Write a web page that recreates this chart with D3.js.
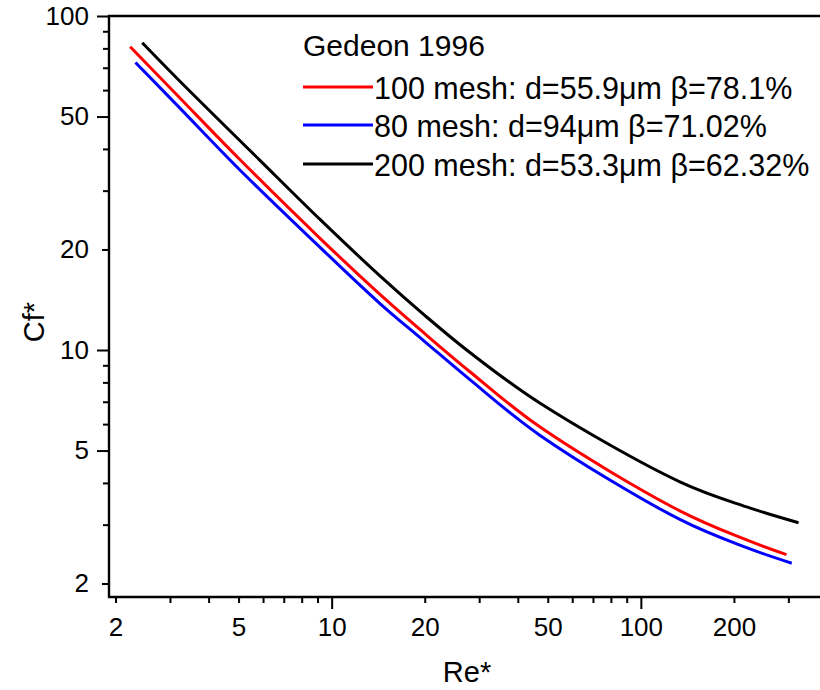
<!DOCTYPE html>
<html>
<head>
<meta charset="utf-8">
<script src="https://cdn.jsdelivr.net/npm/d3@7"></script>
<style>
  html, body { margin: 0; padding: 0; background: #fff; }
  svg { display: block; font-family: Arial, "Liberation Sans", sans-serif; }
</style>
</head>
<body>
<svg id="chart" width="820" height="690"></svg>
<script>
// Friction-factor curves Cf* vs Re* (log-log), three screen meshes
const re100 = [2.23, 3.23, 5.0, 9.17, 14.3, 20, 28, 47.1, 133.7, 219.8, 295.8];
const cf100 = [80.9, 56.8, 37.5, 21.6, 14.7, 11.2, 8.61, 5.89, 3.30, 2.70, 2.44];

const re80 = [2.32, 3.23, 5.05, 9.17, 14.3, 20, 28, 47.1, 133.7, 219.8, 307.6];
const cf80 = [72.6, 53.0, 34.6, 20.3, 13.8, 10.6, 8.15, 5.56, 3.11, 2.56, 2.30];

const re200 = [2.44, 3.23, 5.84, 9.17, 14.3, 20, 28, 47.1, 133.7, 219.8, 323.6];
const cf200 = [83.2, 63.8, 37.1, 24.6, 16.7, 12.7, 9.83, 6.94, 4.03, 3.39, 3.04];

const seriesNames = [
  "100 mesh: d=55.9\u03bcm \u03b2=78.1%",
  "80 mesh: d=94\u03bcm \u03b2=71.02%",
  "200 mesh: d=53.3\u03bcm \u03b2=62.32%"
];
const seriesColors = ["#ff0000", "#0000ff", "#000000"];
const legendTitle = "Gedeon 1996";

const xLabeled = [2, 5, 10, 20, 50, 100, 200];
const xMinor = [3, 4, 6, 7, 8, 9, 30, 40, 60, 70, 80, 90, 300];
const yLabeled = [2, 5, 10, 20, 50, 100];
const yMinor = [3, 4, 6, 7, 8, 9, 30, 40, 60, 70, 80, 90];
const xDomain = [1.905, 400];
const yDomain = [1.822, 100];

const svg = d3.select("#chart");
const plotLeft = 109, plotRight = 827, plotTop = 16, plotBottom = 597;

const x = d3.scaleLog().domain(xDomain).range([plotLeft, plotRight]);
const y = d3.scaleLog().domain(yDomain).range([plotBottom, plotTop]);

const series = [
  { re: re100, cf: cf100 },
  { re: re80, cf: cf80 },
  { re: re200, cf: cf200 }
];

svg.append("defs").append("clipPath").attr("id", "plotClip")
  .append("rect").attr("x", plotLeft).attr("y", plotTop)
  .attr("width", plotRight - plotLeft).attr("height", plotBottom - plotTop);

const line = d3.line()
  .x(d => x(d[0]))
  .y(d => y(d[1]))
  .curve(d3.curveCatmullRom.alpha(0.5));

const plot = svg.append("g").attr("clip-path", "url(#plotClip)");
series.forEach((s, i) => {
  plot.append("path")
    .datum(s.re.map((r, k) => [r, s.cf[k]]))
    .attr("fill", "none")
    .attr("stroke", seriesColors[i])
    .attr("stroke-width", 3)
    .attr("stroke-linejoin", "round")
    .attr("d", line);
});

// Axes
const fmt = d => String(d);
function styleAxis(g) {
  g.select(".domain").remove();
  g.selectAll(".tick line").attr("stroke", "#000").attr("stroke-width", 2);
  g.selectAll(".tick text").attr("fill", "#000").attr("font-size", 26)
    .attr("font-family", "Arial, 'Liberation Sans', sans-serif");
}

// x axis: labelled ticks
const gx = svg.append("g").attr("transform", `translate(0,${plotBottom})`)
  .call(d3.axisBottom(x).tickValues(xLabeled).tickFormat(fmt).tickSize(6).tickPadding(15))
  .call(styleAxis);
gx.selectAll(".tick line").attr("y2", d => (d === 10 || d === 100) ? 12 : 6);
svg.append("g").attr("transform", `translate(0,${plotBottom})`)
  .call(d3.axisBottom(x).tickValues(xMinor).tickFormat("").tickSize(6))
  .call(styleAxis);

// y axis
const yLong = [5, 10, 50, 100];
const gy = svg.append("g").attr("transform", `translate(${plotLeft},0)`)
  .call(d3.axisLeft(y).tickValues(yLabeled).tickFormat(fmt).tickSize(12).tickPadding(9))
  .call(styleAxis);
gy.selectAll(".tick line").attr("x2", d => yLong.includes(d) ? -12 : -7);
gy.selectAll(".tick text").attr("x", -20);
svg.append("g").attr("transform", `translate(${plotLeft},0)`)
  .call(d3.axisLeft(y).tickValues(yMinor).tickFormat("").tickSize(6))
  .call(styleAxis);

// frame lines (left, bottom, top)
const frame = svg.append("g").attr("stroke", "#000").attr("stroke-width", 2.4).attr("fill", "none");
frame.append("line").attr("x1", plotLeft).attr("x2", plotLeft).attr("y1", plotTop - 1).attr("y2", plotBottom + 1);
frame.append("line").attr("x1", plotLeft - 1).attr("x2", plotRight).attr("y1", plotBottom).attr("y2", plotBottom);
frame.append("line").attr("x1", plotLeft - 1).attr("x2", plotRight).attr("y1", plotTop).attr("y2", plotTop);

// axis titles
svg.append("text")
  .attr("x", 467).attr("y", 682)
  .attr("text-anchor", "middle").attr("font-size", 29)
  .text("Re*");
svg.append("text")
  .attr("transform", "translate(44,322) rotate(-90)")
  .attr("text-anchor", "middle").attr("font-size", 29)
  .text("Cf*");

// legend
const legend = svg.append("g");
legend.append("text").attr("x", 303).attr("y", 56).attr("font-size", 30).text(legendTitle);
const rowY = [87, 125, 164];
seriesNames.forEach((name, i) => {
  legend.append("line")
    .attr("x1", 303).attr("x2", 373)
    .attr("y1", rowY[i]).attr("y2", rowY[i])
    .attr("stroke", seriesColors[i]).attr("stroke-width", 3);
  legend.append("text")
    .attr("x", 374).attr("y", rowY[i] + 12)
    .attr("font-size", 30.5)
    .text(name);
});
</script>
</body>
</html>
